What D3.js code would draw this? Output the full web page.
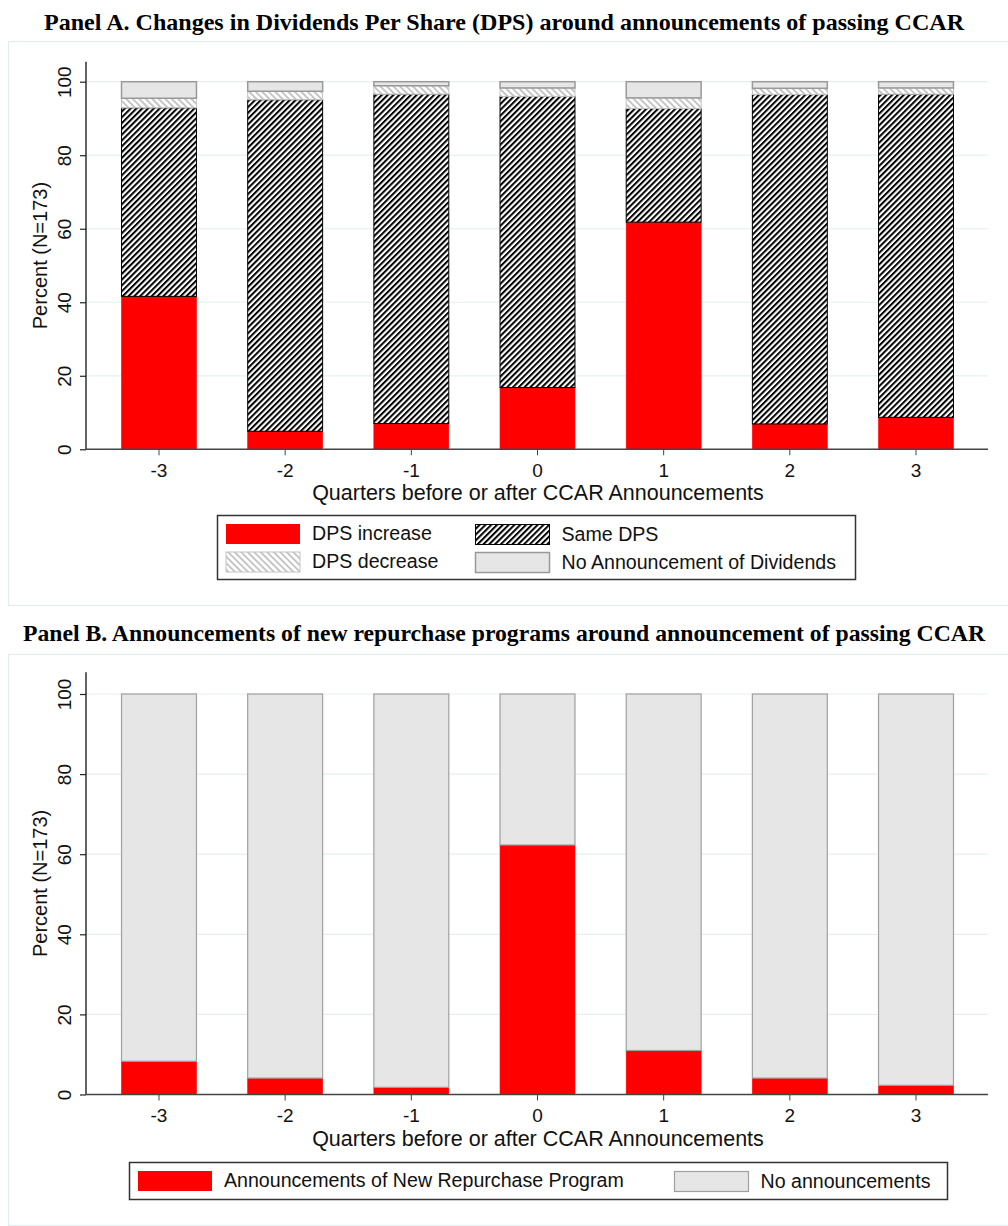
<!DOCTYPE html>
<html>
<head>
<meta charset="utf-8">
<script src="https://cdn.jsdelivr.net/npm/d3@7"></script>
<style>
  html, body { margin: 0; padding: 0; background: #fff; }
  svg { display: block; }
  .sans { font-family: "Liberation Sans", Arial, sans-serif; }
  .serif { font-family: "Liberation Serif", "Times New Roman", serif; }
</style>
</head>
<body>
<svg id="chart" width="1008" height="1226"></svg>
<script>
// Quarters relative to the CCAR announcement
const quarters = ["-3", "-2", "-1", "0", "1", "2", "3"];

// Panel A: share of banks (%) by change in dividends per share
const dpsIncrease  = [41.6, 4.9, 7.0, 16.8, 61.8, 6.9, 8.7];
const sameDps      = [51.3, 90.2, 89.6, 79.2, 30.9, 89.6, 87.9];
const dpsDecrease  = [2.6, 2.3, 2.3, 2.3, 2.9, 1.7, 1.7];
const noDividend   = [4.5, 2.6, 1.1, 1.7, 4.4, 1.8, 1.7];

// Panel B: share of banks (%) announcing a new repurchase program
const newRepurchase  = [8.3, 4.1, 1.8, 62.3, 11.0, 4.1, 2.3];
const noRepurchase   = [91.7, 95.9, 98.2, 37.7, 89.0, 95.9, 97.7];

const yTicks = [0, 20, 40, 60, 80, 100];

const titleA = "Panel A. Changes in Dividends Per Share (DPS) around announcements of passing CCAR";
const titleB = "Panel B. Announcements of new repurchase programs around announcement of passing CCAR";
const yLabel = "Percent (N=173)";
const xLabel = "Quarters before or after CCAR Announcements";

const svg = d3.select("#chart");
const defs = svg.append("defs");

// hatch fills
function hatch(id, angle, size, lineW, color) {
  const p = defs.append("pattern")
    .attr("id", id)
    .attr("patternUnits", "userSpaceOnUse")
    .attr("width", size).attr("height", size)
    .attr("patternTransform", `rotate(${angle})`);
  p.append("rect").attr("width", size).attr("height", size).attr("fill", "#fff");
  p.append("rect").attr("x", 0).attr("y", 0).attr("width", lineW).attr("height", size).attr("fill", color);
}
hatch("hatchSame", 45, 4.1, 2.0, "#000");
hatch("hatchDec", -45, 4.6, 1.9, "#c4c4c4");

const styles = {
  inc:   { fill: "#ff0000", stroke: "#ff0000", sw: 0.6 },
  same:  { fill: "url(#hatchSame)", stroke: "#000", sw: 1 },
  dec:   { fill: "url(#hatchDec)", stroke: "#c4c4c4", sw: 1 },
  none:  { fill: "#e6e6e6", stroke: "#999", sw: 1.5 },
  rep:   { fill: "#ff0000", stroke: "#ff0000", sw: 0.6 },
  norep: { fill: "#e6e6e6", stroke: "#a0a0a0", sw: 1.2 }
};

const x = d3.scaleBand()
  .domain(quarters)
  .range([95.9, 979.1])
  .paddingInner(0.406)
  .paddingOuter(0.203);

const plotLeft = 86, plotRight = 988;

function panel(cfg) {
  const g = svg.append("g");
  // outer frame
  g.append("rect")
    .attr("x", 8.5).attr("y", cfg.boxTop + 0.5)
    .attr("width", 1012).attr("height", cfg.boxH)
    .attr("fill", "#fff").attr("stroke", "#e4eded").attr("stroke-width", 1.2);

  // title
  g.append("text").attr("class", "serif")
    .attr("x", 504).attr("y", cfg.titleY)
    .attr("text-anchor", "middle")
    .attr("font-size", 23).attr("font-weight", "bold")
    .attr("textLength", cfg.titleLen).attr("lengthAdjust", "spacingAndGlyphs")
    .text(cfg.title);

  const y = d3.scaleLinear().domain([0, 100]).range([cfg.y0, cfg.y100]);

  // grid
  g.append("g").selectAll("line").data(yTicks.filter(d => d > 0)).join("line")
    .attr("x1", plotLeft).attr("x2", plotRight)
    .attr("y1", d => y(d)).attr("y2", d => y(d))
    .attr("stroke", "#e6efef").attr("stroke-width", 1.2);

  // stacked bars
  const rows = quarters.map((q, i) => {
    const r = { q };
    cfg.series.forEach(s => r[s.key] = s.values[i]);
    return r;
  });
  const stack = d3.stack().keys(cfg.series.map(s => s.key))(rows);
  stack.forEach(layer => {
    const st = styles[layer.key];
    g.append("g").selectAll("rect").data(layer).join("rect")
      .attr("x", d => x(d.data.q))
      .attr("width", x.bandwidth())
      .attr("y", d => y(d[1]))
      .attr("height", d => y(d[0]) - y(d[1]))
      .attr("fill", st.fill)
      .attr("stroke", st.stroke)
      .attr("stroke-width", st.sw);
  });

  // y axis
  const yAxis = g.append("g")
    .attr("transform", `translate(${plotLeft},0)`)
    .call(d3.axisLeft(y).tickValues(yTicks).tickSize(6).tickPadding(7).tickFormat(d3.format("d")));
  yAxis.select(".domain").remove();
  yAxis.append("line")
    .attr("x1", 0).attr("x2", 0)
    .attr("y1", y(105.4)).attr("y2", cfg.y0)
    .attr("stroke", "#222").attr("stroke-width", 1.4);
  yAxis.selectAll(".tick line").attr("stroke", "#222").attr("stroke-width", 1.2);
  yAxis.selectAll(".tick text")
    .attr("class", "sans").attr("font-size", 19).attr("fill", "#111")
    .attr("text-anchor", "middle").attr("dy", null).attr("x", null)
    .attr("transform", "translate(-20,0) rotate(-90)")
    .attr("dominant-baseline", "middle");

  // x axis
  const xAxis = g.append("g")
    .attr("transform", `translate(0,${cfg.y0})`)
    .call(d3.axisBottom(x).tickSize(6).tickPadding(8));
  xAxis.select(".domain").remove();
  xAxis.append("line")
    .attr("x1", plotLeft).attr("x2", plotRight)
    .attr("y1", 0).attr("y2", 0)
    .attr("stroke", "#444").attr("stroke-width", 1.4);
  xAxis.selectAll(".tick line").attr("stroke", "#444");
  xAxis.selectAll(".tick text")
    .attr("class", "sans").attr("font-size", 19).attr("fill", "#111");

  // axis titles
  g.append("text").attr("class", "sans")
    .attr("transform", `translate(42,${(y(105.4) + cfg.y0) / 2}) rotate(-90)`)
    .attr("text-anchor", "middle").attr("dominant-baseline", "middle")
    .attr("font-size", 20).attr("fill", "#111")
    .text(yLabel);
  g.append("text").attr("class", "sans")
    .attr("x", (plotLeft + plotRight) / 2 + 1).attr("y", cfg.y0 + 51)
    .attr("text-anchor", "middle")
    .attr("font-size", 21.5).attr("fill", "#111")
    .text(xLabel);

  // legend
  const L = cfg.legend;
  g.append("rect")
    .attr("x", L.x).attr("y", L.y).attr("width", L.w).attr("height", L.h)
    .attr("fill", "#fff").attr("stroke", "#333").attr("stroke-width", 1.5);
  L.items.forEach(it => {
    const st = styles[it.key];
    g.append("rect")
      .attr("x", it.sx).attr("y", it.sy).attr("width", 74).attr("height", 20)
      .attr("fill", st.fill)
      .attr("stroke", it.key === "inc" || it.key === "rep" ? "none" : st.stroke)
      .attr("stroke-width", st.sw);
    g.append("text").attr("class", "sans")
      .attr("x", it.sx + 86).attr("y", it.sy + 11)
      .attr("dominant-baseline", "middle")
      .attr("font-size", 19.6).attr("fill", "#111")
      .text(it.label);
  });
}

panel({
  boxTop: 41, boxH: 564,
  title: titleA, titleY: 30, titleLen: 920,
  y0: 449.3, y100: 81.7,
  series: [
    { key: "inc", values: dpsIncrease },
    { key: "same", values: sameDps },
    { key: "dec", values: dpsDecrease },
    { key: "none", values: noDividend }
  ],
  legend: {
    x: 217.5, y: 515.5, w: 638, h: 64,
    items: [
      { key: "inc",  label: "DPS increase", sx: 226, sy: 524 },
      { key: "same", label: "Same DPS", sx: 475.5, sy: 524.5 },
      { key: "dec",  label: "DPS decrease", sx: 226, sy: 552 },
      { key: "none", label: "No Announcement of Dividends", sx: 475.5, sy: 552.5 }
    ]
  }
});

panel({
  boxTop: 654, boxH: 571,
  title: titleB, titleY: 641, titleLen: 962,
  y0: 1094.5, y100: 694,
  series: [
    { key: "rep", values: newRepurchase },
    { key: "norep", values: noRepurchase }
  ],
  legend: {
    x: 129.5, y: 1162.5, w: 818, h: 37,
    items: [
      { key: "rep", label: "Announcements of New Repurchase Program", sx: 138, sy: 1171 },
      { key: "norep", label: "No announcements", sx: 674.5, sy: 1171.5 }
    ]
  }
});
</script>
</body>
</html>
